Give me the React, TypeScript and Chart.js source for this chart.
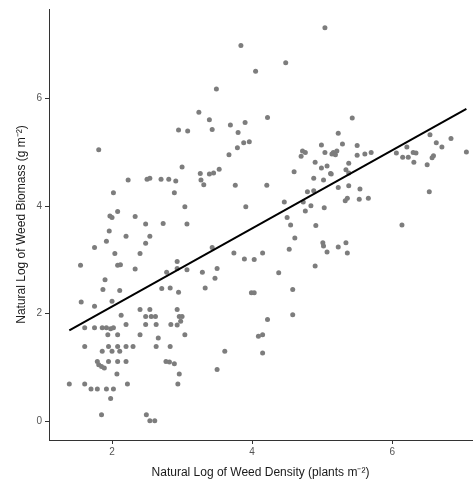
import React, { useEffect, useRef } from "react";
import { Chart, registerables } from "chart.js";

Chart.register(...registerables);

// Natural log of weed density (x) and biomass (y) observations
const densityX: number[] = [
  2.95, 3.08, 1.81, 3.0, 2.23, 2.5, 2.54, 2.7, 2.81, 2.91, 2.02, 2.89, 3.04, 2.08, 1.97, 2.0, 2.33, 2.48, 2.73, 3.07,
  5.04, 3.84, 4.48, 4.05, 3.49, 3.24, 3.39, 3.43, 3.69, 3.9, 4.22, 3.8, 3.88, 3.96, 3.79, 3.67, 3.53, 3.26, 3.39, 3.45,
  3.27, 3.31, 3.76, 4.21, 3.91, 4.46, 4.72, 4.76, 4.7, 4.99, 5.04, 5.14, 4.9, 4.99, 5.07, 5.12, 4.6, 4.88, 5.02, 4.79,
  4.88, 4.73, 4.84, 4.76, 5.03, 4.5, 4.55, 4.91,
  5.43, 5.23, 5.29, 5.16, 5.21, 5.19, 5.5, 5.5, 5.61, 5.7, 5.38, 5.34, 5.38, 5.13, 5.23, 5.38, 5.54, 5.33, 5.36, 5.53,
  5.66, 6.06, 6.21, 6.15, 6.23, 6.3, 6.34, 6.31, 6.54, 6.63, 6.71, 6.84, 6.59, 6.57, 6.5, 7.06, 6.53, 6.14,
  1.96, 2.2, 2.54, 1.92, 1.75, 2.48, 2.04, 2.4, 1.55, 2.08, 2.12, 2.33, 2.93, 2.93, 3.07, 2.78, 1.9, 1.87, 2.11, 2.71,
  2.83, 2.95, 1.56, 1.75, 2.0, 2.4, 2.54, 2.13, 2.48, 2.56, 2.62, 2.93, 2.96, 3.0, 2.98, 1.61, 1.75, 1.86, 1.92, 1.98,
  2.02, 1.94, 2.08, 2.2, 2.4, 2.48, 2.63, 2.66, 2.84, 2.93, 3.04, 1.61, 1.95, 2.08, 2.2, 2.3, 1.86, 2.0, 2.11, 2.63,
  2.83, 1.79, 1.95, 2.08, 2.2, 1.81, 1.85, 1.89, 2.77, 2.82, 2.89, 2.07, 2.96, 1.39, 1.61, 2.22, 2.94, 1.7, 1.79, 1.92,
  2.02, 1.98, 1.85, 2.49, 2.54, 2.61,
  4.61, 4.53, 5.01, 5.02, 5.07, 4.9, 3.43, 3.74, 3.89, 4.03, 4.15, 3.5, 3.29, 3.47, 3.33, 4.38, 3.99, 4.03, 4.58, 4.58,
  4.22, 4.09, 4.15, 3.61, 4.15, 3.5, 5.34, 5.23, 5.36,
];
const biomassY: number[] = [
  5.42, 5.4, 5.05, 4.73, 4.49, 4.5, 4.52, 4.5, 4.5, 4.47, 4.25, 4.25, 3.99, 3.9, 3.82, 3.79, 3.81, 3.67, 3.68, 3.67,
  7.32, 6.99, 6.67, 6.51, 6.18, 5.75, 5.61, 5.43, 5.51, 5.56, 5.65, 5.37, 5.18, 5.2, 5.09, 4.96, 4.69, 4.61, 4.6, 4.62,
  4.49, 4.4, 4.39, 4.39, 3.99, 4.08, 5.03, 5.0, 4.93, 5.14, 5.0, 4.97, 4.82, 4.71, 4.75, 4.61, 4.64, 4.52, 4.49, 4.27,
  4.29, 4.08, 4.01, 3.91, 3.97, 3.79, 3.65, 3.64,
  5.64, 5.36, 5.16, 5.0, 5.03, 4.96, 5.13, 4.95, 4.97, 5.0, 4.8, 4.68, 4.62, 4.6, 4.35, 4.38, 4.32, 4.1, 4.15, 4.13,
  4.15, 4.99, 5.1, 4.91, 4.91, 5.0, 4.99, 4.82, 5.33, 5.18, 5.1, 5.26, 4.94, 4.9, 4.77, 5.01, 4.27, 3.65,
  3.54, 3.44, 3.44, 3.35, 3.23, 3.31, 3.12, 3.12, 2.9, 2.9, 2.91, 2.83, 2.97, 2.84, 2.82, 2.77, 2.63, 2.45, 2.43, 2.47,
  2.48, 2.4, 2.22, 2.14, 2.23, 2.08, 2.08, 1.97, 1.95, 1.95, 1.95, 2.08, 1.95, 1.95, 1.86, 1.74, 1.74, 1.74, 1.74, 1.72,
  1.74, 1.61, 1.61, 1.8, 1.61, 1.8, 1.8, 1.55, 1.8, 1.79, 1.61, 1.39, 1.39, 1.39, 1.39, 1.39, 1.3, 1.3, 1.3, 1.39,
  1.39, 1.11, 1.11, 1.11, 1.11, 1.05, 1.02, 0.99, 1.11, 1.1, 1.07, 0.88, 0.88, 0.69, 0.69, 0.69, 0.69, 0.6, 0.6, 0.6,
  0.6, 0.42, 0.12, 0.12, 0.01, 0.01,
  3.41, 3.2, 3.32, 3.26, 3.15, 2.89, 3.23, 3.13, 3.02, 3.01, 3.13, 2.84, 2.77, 2.66, 2.48, 2.76, 2.39, 2.39, 2.45, 1.98,
  1.89, 1.58, 1.61, 1.3, 1.27, 0.96, 3.32, 3.24, 3.13,
];

// Fitted regression line endpoints (x, y)
const fitX: number[] = [1.39, 7.06];
const fitY: number[] = [1.69, 5.81];

const xTicks: number[] = [2, 4, 6];
const yTicks: number[] = [0, 2, 4, 6];

const xTitle = "Natural Log of Weed Density (plants m\u207B\u00B2)";
const yTitle = "Natural Log of Weed Biomass (g m\u207B\u00B2)";

export default function App() {
  const ref = useRef<HTMLCanvasElement | null>(null);

  useEffect(() => {
    if (!ref.current) return;
    const points = densityX.map((x, i) => ({ x, y: biomassY[i] }));
    const line = fitX.map((x, i) => ({ x, y: fitY[i] }));
    const font = { family: "'Liberation Sans', Arial, sans-serif" };
    const chart = new Chart(ref.current, {
      type: "scatter",
      data: {
        datasets: [
          {
            type: "line",
            data: line,
            borderColor: "#000000",
            borderWidth: 2,
            pointRadius: 0,
            fill: false,
          } as any,
          {
            data: points,
            backgroundColor: "#7d7d7d",
            borderWidth: 0,
            pointRadius: 2.5,
          },
        ],
      },
      options: {
        animation: false,
        responsive: false,
        maintainAspectRatio: false,
        layout: { padding: { top: 9, right: 4, left: 0, bottom: 0 } },
        plugins: { legend: { display: false }, tooltip: { enabled: false } },
        scales: {
          x: {
            type: "linear",
            min: 1.1,
            max: 7.14,
            afterBuildTicks: (s: any) => {
              s.ticks = xTicks.map((v) => ({ value: v }));
            },
            afterFit: (s: any) => {
              s.height = 46;
            },
            grid: { drawOnChartArea: false, tickLength: 4, tickColor: "#333333" },
            border: { display: true, color: "#333333", width: 1 },
            ticks: { color: "#555555", padding: 2, font: { ...font, size: 10 } },
            title: {
              display: true,
              text: xTitle,
              color: "#1a1a1a",
              padding: { top: 2, bottom: 6 },
              font: { ...font, size: 12 },
            },
          },
          y: {
            type: "linear",
            min: -0.35,
            max: 7.67,
            afterBuildTicks: (s: any) => {
              s.ticks = yTicks.map((v) => ({ value: v }));
            },
            afterFit: (s: any) => {
              s.width = 49;
            },
            grid: { drawOnChartArea: false, tickLength: 4, tickColor: "#333333" },
            border: { display: true, color: "#333333", width: 1 },
            ticks: { color: "#555555", padding: 3, font: { ...font, size: 10 } },
            title: {
              display: true,
              text: yTitle,
              color: "#1a1a1a",
              padding: { top: 14, bottom: 0 },
              font: { ...font, size: 12 },
            },
          },
        },
      },
    });
    return () => chart.destroy();
  }, []);

  return (
    <div style={{ position: "fixed", left: 0, top: 0, width: 476, height: 486, background: "#ffffff" }}>
      <canvas ref={ref} width={476} height={486} style={{ width: 476, height: 486, display: "block" }} />
    </div>
  );
}
